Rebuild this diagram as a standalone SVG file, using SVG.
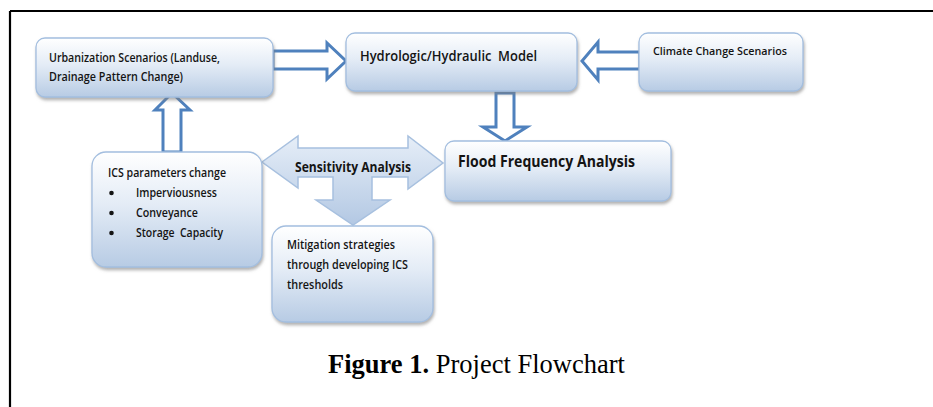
<svg xmlns="http://www.w3.org/2000/svg" width="933" height="407" viewBox="0 0 933 407">
<defs>
<linearGradient id="boxg" x1="0" y1="0" x2="0" y2="1">
<stop offset="0" stop-color="#ffffff"/>
<stop offset="0.45" stop-color="#e4ecf6"/>
<stop offset="1" stop-color="#b7cbe4"/>
</linearGradient>
<linearGradient id="sensg" x1="0" y1="0" x2="0" y2="1">
<stop offset="0" stop-color="#e6eef8"/>
<stop offset="1" stop-color="#b3c8e3"/>
</linearGradient>
<filter id="sh" x="-10%" y="-10%" width="125%" height="135%">
<feDropShadow dx="1" dy="2.5" stdDeviation="1.5" flood-color="#7f7f7f" flood-opacity="0.6"/>
</filter>
<style>
.box{fill:url(#boxg);stroke:#a3bedf;stroke-width:1.3;filter:url(#sh)}
.hollow{fill:#ffffff;stroke:#4f81bd;stroke-width:3;stroke-linejoin:miter}
.t{font-family:"Open Sans","Liberation Sans",Arial,sans-serif;fill:#141414;font-weight:600}
.b{font-weight:bold}
.cap{font-family:"Liberation Serif","Times New Roman",serif;fill:#000;font-size:26.5px}
</style>
</defs>
<rect width="933" height="407" fill="#ffffff"/>
<g id="frame" stroke="#000" stroke-width="2.2" fill="none">
<path d="M10,11 H933 M10,11 V407"/>
</g>
<g id="connectors">
<path class="hollow" d="M273,51 L327,51 L327,43 L346,61 L327,79 L327,69 L273,69 Z"/>
<path class="hollow" d="M640,52 L598,52 L598,42 L582,61 L598,80 L598,69 L640,69 Z"/>
<path class="hollow" d="M496,93 L514,93 L514,127 L527,127 L505,141 L483,127 L496,127 Z"/>
<path class="hollow" d="M163,152 L163,110 L155,110 L172,93 L190,110 L181,110 L181,152 Z"/>
<g id="sensitivity">
<path d="M262,162 L298,136 L298,148 L408,148 L408,136 L443,163 L408,189 L408,177 L372,177 L372,200 L390,200 L353,225 L316,200 L333,200 L333,177 L298,177 L298,188 Z" fill="url(#sensg)" stroke="#a7c0df" stroke-width="1.5"/>
<text class="t b" x="295" y="172" font-size="15" textLength="116" lengthAdjust="spacingAndGlyphs">Sensitivity Analysis</text>
</g>
</g>
<g id="urbanization">
<rect class="box" x="36" y="38" width="237" height="59" rx="9"/>
<text class="t" x="49" y="62" font-size="12" textLength="171" lengthAdjust="spacingAndGlyphs">Urbanization Scenarios (Landuse,</text>
<text class="t" x="49" y="81" font-size="12" textLength="134" lengthAdjust="spacingAndGlyphs">Drainage Pattern Change)</text>
</g>
<g id="hydrologic">
<rect class="box" x="346" y="33" width="231" height="58" rx="9"/>
<text class="t" x="360" y="61" font-size="14.5" textLength="177" lengthAdjust="spacingAndGlyphs">Hydrologic/Hydraulic&#160; Model</text>
</g>
<g id="climate">
<rect class="box" x="639" y="33" width="164" height="58" rx="9"/>
<text class="t" x="653" y="55" font-size="11.5" textLength="134" lengthAdjust="spacingAndGlyphs">Climate Change Scenarios</text>
</g>
<g id="flood">
<rect class="box" x="445" y="141" width="226" height="60" rx="9"/>
<text class="t b" x="458" y="167" font-size="16.5" textLength="177" lengthAdjust="spacingAndGlyphs">Flood Frequency Analysis</text>
</g>
<g id="ics">
<rect class="box" x="92" y="152" width="170" height="115" rx="14"/>
<text class="t" x="108" y="177" font-size="12.5" textLength="118" lengthAdjust="spacingAndGlyphs">ICS parameters change</text>
<circle cx="111.5" cy="193" r="2.3" fill="#141414"/>
<circle cx="111.5" cy="213" r="2.3" fill="#141414"/>
<circle cx="111.5" cy="233" r="2.3" fill="#141414"/>
<text class="t" x="136" y="197" font-size="12.5" textLength="81" lengthAdjust="spacingAndGlyphs">Imperviousness</text>
<text class="t" x="136" y="217" font-size="12.5" textLength="62" lengthAdjust="spacingAndGlyphs">Conveyance</text>
<text class="t" x="136" y="237" font-size="12.5" textLength="87" lengthAdjust="spacingAndGlyphs">Storage&#160; Capacity</text>
</g>
<g id="mitigation">
<rect class="box" x="272" y="226" width="161" height="96" rx="14"/>
<text class="t" x="287" y="249" font-size="12.5" textLength="108" lengthAdjust="spacingAndGlyphs">Mitigation strategies</text>
<text class="t" x="287" y="269" font-size="12.5" textLength="121" lengthAdjust="spacingAndGlyphs">through developing ICS</text>
<text class="t" x="287" y="289" font-size="12.5" textLength="56" lengthAdjust="spacingAndGlyphs">thresholds</text>
</g>
<text class="cap" x="328" y="373"><tspan font-weight="bold">Figure 1.</tspan> Project Flowchart</text>
</svg>
